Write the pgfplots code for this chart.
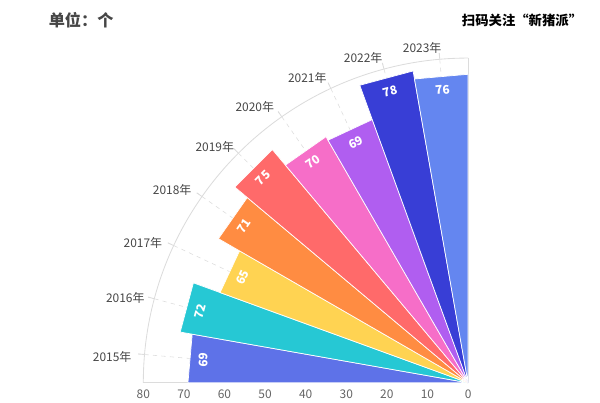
\documentclass[border=0pt]{standalone}
\usepackage{fontspec}
\setmainfont{Noto Sans CJK SC}
\usepackage{pgfplots}
\pgfplotsset{compat=1.18}
\definecolor{c1}{RGB}{94,114,232}
\definecolor{c2}{RGB}{38,200,212}
\definecolor{c3}{RGB}{255,211,82}
\definecolor{c4}{RGB}{255,140,66}
\definecolor{c5}{RGB}{255,106,106}
\definecolor{c6}{RGB}{246,110,200}
\definecolor{c7}{RGB}{176,94,240}
\definecolor{c8}{RGB}{56,62,214}
\definecolor{c9}{RGB}{100,134,240}
\definecolor{gridc}{RGB}{220,220,220}
\definecolor{txt}{RGB}{70,70,70}
\definecolor{tick}{RGB}{100,100,100}
\begin{document}
\begin{tikzpicture}
\def\ulen{0.1015cm}
\begin{axis}[x=\ulen, y=\ulen, xmin=-115.3, xmax=32.5, ymin=-4.19, ymax=94.3,
  hide axis, clip=false]
\path (rel axis cs:0,0) rectangle (rel axis cs:1,1);
\coordinate (O) at (axis cs:0,0);
% grid
\draw[gridc, line width=0.6pt] (axis cs:-80,0) arc[start angle=180, end angle=90, radius=8.12cm];
\draw[gridc, line width=0.6pt] (axis cs:-80,0) -- (axis cs:0,0) -- (axis cs:0,80);
\addplot[gridc, dashed, data cs=polar] coordinates {(175,0) (175,81.5)};
\addplot[gridc, dashed, data cs=polar] coordinates {(165,0) (165,81.5)};
\addplot[gridc, dashed, data cs=polar] coordinates {(155,0) (155,81.5)};
\addplot[gridc, dashed, data cs=polar] coordinates {(145,0) (145,81.5)};
\addplot[gridc, dashed, data cs=polar] coordinates {(135,0) (135,81.5)};
\addplot[gridc, dashed, data cs=polar] coordinates {(125,0) (125,81.5)};
\addplot[gridc, dashed, data cs=polar] coordinates {(115,0) (115,81.5)};
\addplot[gridc, dashed, data cs=polar] coordinates {(105,0) (105,81.5)};
\addplot[gridc, dashed, data cs=polar] coordinates {(95,0) (95,81.5)};
% bars
\addplot[fill=c1, draw=white, line width=0.5pt, data cs=polar] coordinates {(180,0) (180,69) (170,69)} -- cycle;
\addplot[fill=c2, draw=white, line width=0.5pt, data cs=polar] coordinates {(170,0) (170,72) (160,72)} -- cycle;
\addplot[fill=c3, draw=white, line width=0.5pt, data cs=polar] coordinates {(160,0) (160,65) (150,65)} -- cycle;
\addplot[fill=c4, draw=white, line width=0.5pt, data cs=polar] coordinates {(150,0) (150,71) (140,71)} -- cycle;
\addplot[fill=c5, draw=white, line width=0.5pt, data cs=polar] coordinates {(140,0) (140,75) (130,75)} -- cycle;
\addplot[fill=c6, draw=white, line width=0.5pt, data cs=polar] coordinates {(130,0) (130,70) (120,70)} -- cycle;
\addplot[fill=c7, draw=white, line width=0.5pt, data cs=polar] coordinates {(120,0) (120,69) (110,69)} -- cycle;
\addplot[fill=c8, draw=white, line width=0.5pt, data cs=polar] coordinates {(110,0) (110,78) (100,78)} -- cycle;
\addplot[fill=c9, draw=white, line width=0.5pt, data cs=polar] coordinates {(100,0) (100,76) (90,76)} -- cycle;
% radial tick labels
\foreach \t in {0,10,...,80}{
  \edef\tmp{\noexpand\node[text=tick, font=\noexpand\fontsize{8.5}{10}\noexpand\selectfont] at (axis cs:-\t,-2.7) {\t};}
  \tmp
}
\node[anchor=west, text=txt, font=\fontsize{11.5}{13}\selectfont\bfseries] at (axis cs:-104.5,89.4) {单位：个};
\node[text=black, font=\fontsize{9.5}{12}\selectfont\bfseries] at (axis cs:13.3,89.4) {扫码关注“新猪派”};
\end{axis}
\begin{scope}[shift={(O)}, x=\ulen, y=\ulen]
\foreach \a/\v in {175/69,165/72,155/65,145/71,135/75,125/70,115/69,105/78,95/76}{
  \pgfmathsetmacro\rl{\v-3.6}
  \pgfmathtruncatemacro\rot{\a-90}
  \path (\a:\rl) node[rotate=\rot, text=white, font=\fontsize{8.5}{10}\selectfont\bfseries] {\v};
  \draw[gridc, line width=0.6pt] (\a:80) -- (\a:81.6);
}
\foreach \a/\r/\yr in {175.8/87.9/2015,166.1/87.0/2016,156.7/87.2/2017,146.9/87.0/2018,137.0/85.3/2019,127.7/85.9/2020,117.8/84.9/2021,107.9/84.1/2022,97.8/83.3/2023}{
  \path (\a:\r) node[text=txt, inner sep=0pt, font=\fontsize{8.5}{10}\selectfont] {{\yr}年};
}
\end{scope}
\end{tikzpicture}
\end{document}
